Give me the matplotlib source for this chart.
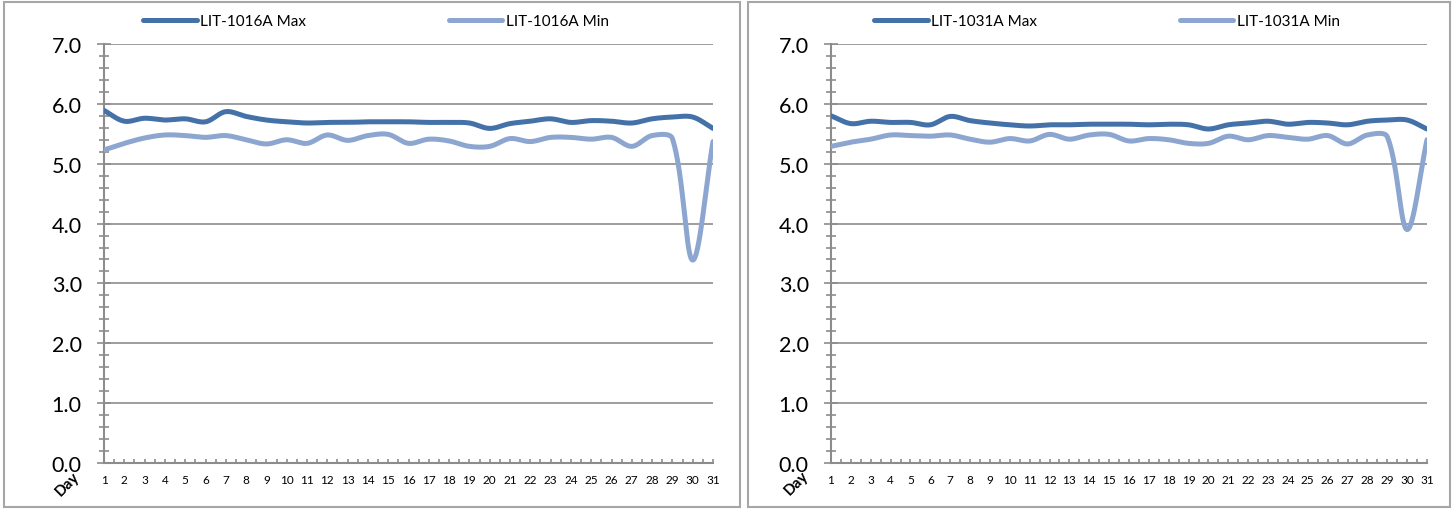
import matplotlib
matplotlib.use("Agg")
import matplotlib.pyplot as plt
from matplotlib.patches import Rectangle
from matplotlib.ticker import MultipleLocator
import numpy as np

plt.rcParams["font.family"] = ["Lato", "DejaVu Sans"]

## ----- data ----- ##
days = list(range(1, 32))

lit1016_max = [5.89, 5.71, 5.76, 5.73, 5.75, 5.70, 5.87, 5.79, 5.73, 5.70, 5.68,
               5.69, 5.69, 5.70, 5.70, 5.70, 5.69, 5.69, 5.68, 5.59, 5.67, 5.71,
               5.75, 5.69, 5.72, 5.71, 5.68, 5.75, 5.78, 5.78, 5.59]
lit1016_min = [5.23, 5.34, 5.43, 5.48, 5.47, 5.44, 5.47, 5.40, 5.33, 5.40, 5.34,
               5.48, 5.39, 5.47, 5.49, 5.34, 5.41, 5.38, 5.29, 5.29, 5.42, 5.37,
               5.44, 5.44, 5.41, 5.44, 5.29, 5.47, 5.42, 3.39, 5.37]

lit1031_max = [5.80, 5.67, 5.71, 5.69, 5.69, 5.65, 5.79, 5.72, 5.68, 5.65, 5.63,
               5.65, 5.65, 5.66, 5.66, 5.66, 5.65, 5.66, 5.65, 5.58, 5.65, 5.68,
               5.71, 5.66, 5.69, 5.68, 5.65, 5.71, 5.73, 5.73, 5.58]
lit1031_min = [5.29, 5.36, 5.41, 5.48, 5.47, 5.46, 5.48, 5.41, 5.36, 5.42, 5.38,
               5.49, 5.41, 5.48, 5.49, 5.38, 5.42, 5.40, 5.34, 5.34, 5.46, 5.40,
               5.47, 5.44, 5.41, 5.47, 5.33, 5.48, 5.45, 3.90, 5.40]

panels = [
    ("LIT-1016A", lit1016_max, lit1016_min),
    ("LIT-1031A", lit1031_max, lit1031_min),
]

MAX_COLOR = "#4371a8"
MIN_COLOR = "#8da6cf"
GRAY = "#8c8c8c"
Y_SCALE = 2.94  # px per y unit / px per day, for chord lengths


def smooth(x, y, steps=30):
    # excel style smoothed line: bezier through the points,
    # control arms scaled by neighbouring chord lengths
    x = np.asarray(x, float)
    y = np.asarray(y, float)
    P = np.column_stack([x, y])
    n = len(P)
    Q = np.column_stack([x, y * Y_SCALE])
    d = np.hypot(*(Q[1:] - Q[:-1]).T)
    t = np.linspace(0, 1, steps)
    xs, ys = [], []
    for i in range(n - 1):
        p0, p3 = P[i], P[i + 1]
        if i > 0:
            c1 = p0 + (P[i + 1] - P[i - 1]) * d[i] / (d[i - 1] + d[i]) / 3
        else:
            c1 = p0 + (p3 - p0) / 3
        if i < n - 2:
            c2 = p3 - (P[i + 2] - P[i]) * d[i] / (d[i] + d[i + 1]) / 3
        else:
            c2 = p3 - (p3 - p0) / 3
        b = (((1 - t) ** 3)[:, None] * p0 + (3 * (1 - t) ** 2 * t)[:, None] * c1
             + (3 * (1 - t) * t ** 2)[:, None] * c2 + (t ** 3)[:, None] * p3)
        xs.extend(b[:, 0])
        ys.extend(b[:, 1])
    return xs, ys


W, H = 1453, 510
fig = plt.figure(figsize=(W / 100, H / 100), dpi=100)

# panel frames (px)
frames = [(4, 3, 736, 505), (748, 3, 702, 505)]
for fx, fy, fw, fh in frames:
    fig.patches.append(Rectangle((fx / W, 1 - (fy + fh) / H), fw / W, fh / H,
                                 transform=fig.transFigure, fill=False,
                                 edgecolor="#a6a6a6", linewidth=1.5))

# axes placement (px): left, right
axes_px = [(104, 713), (831, 1427)]
legend_cx = [376, 1107]
day_pos = [(67, 484), (796, 483)]

for k, (name, vmax, vmin) in enumerate(panels):
    x0, x1 = axes_px[k]
    ax = fig.add_axes([x0 / W, (H - 464) / H, (x1 - x0) / W, (464 - 45) / H])

    sx, sy = smooth(days, vmax)
    ax.plot(sx, sy, color=MAX_COLOR, lw=3.6, solid_capstyle="round",
            label=name + " Max", zorder=3)
    sx, sy = smooth(days, vmin)
    ax.plot(sx, sy, color=MIN_COLOR, lw=3.6, solid_capstyle="round",
            label=name + " Min", zorder=3)

    ax.set_xlim(1, 31)
    ax.set_ylim(0, 7)
    ax.yaxis.set_minor_locator(MultipleLocator(0.2))
    ax.xaxis.set_minor_locator(MultipleLocator(0.5))
    ax.set_yticks(np.arange(0, 8))
    ax.set_yticklabels([f"{v:.1f}" for v in range(8)], fontsize=15.5)
    ax.set_xticks(days)
    ax.set_xticklabels([str(d) for d in days], fontsize=8.5)

    ax.grid(axis="y", which="major", color=GRAY, lw=1.2)
    ax.set_axisbelow(True)
    for s in ["top", "right"]:
        ax.spines[s].set_visible(False)
    for s in ["left", "bottom"]:
        ax.spines[s].set_color(GRAY)
        ax.spines[s].set_linewidth(1.5)

    ax.tick_params(axis="y", which="major", direction="inout", length=10,
                   width=1.2, color=GRAY, pad=11)
    ax.tick_params(axis="y", which="minor", direction="inout", length=7,
                   width=1.2, color=GRAY)
    ax.tick_params(axis="x", which="both", direction="in", length=3,
                   width=1.2, color=GRAY, pad=8)

    ax.legend(loc="center", bbox_to_anchor=(legend_cx[k] / W, 1 - 22 / H),
              bbox_transform=fig.transFigure, ncol=2, frameon=False,
              fontsize=11, handlelength=3.5, handletextpad=0.25,
              columnspacing=9.3)

    dx, dy = day_pos[k]
    fig.text(dx / W, 1 - dy / H, "Day", rotation=45, ha="center",
             va="center", fontsize=11, fontweight="bold")

fig.savefig("out.png", dpi=100)
